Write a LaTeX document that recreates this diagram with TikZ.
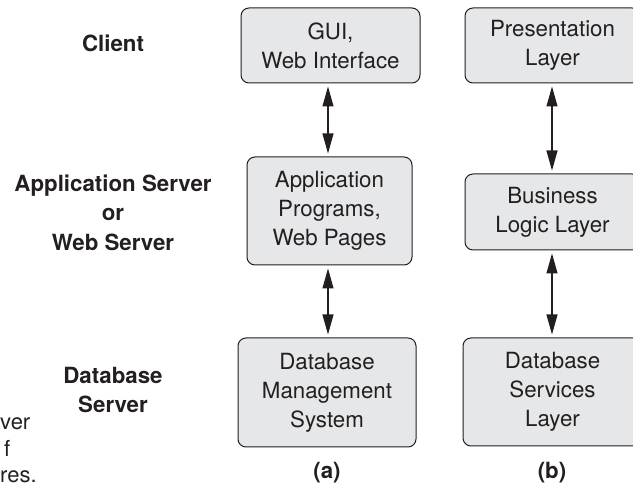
\documentclass[tikz,border=0pt]{standalone}
\usepackage{fontspec}
\setmainfont{TeX Gyre Heros}
\usetikzlibrary{arrows.meta}
\definecolor{ink}{RGB}{35,31,32}
\definecolor{boxfill}{RGB}{230,231,232}
\begin{document}
\begin{tikzpicture}[x=1pt,y=-1pt,
  box/.style={draw=ink, fill=boxfill, line width=1pt, rounded corners=8pt,
    inner sep=0pt, align=center, text=ink,
    font=\fontsize{22.3}{29}\selectfont},
  lbl/.style={inner sep=0pt, align=center, text=ink,
    font=\fontsize{22.3}{29.5}\selectfont\bfseries},
  frag/.style={inner sep=0pt, text=ink, font=\fontsize{22}{27}\selectfont},
  arr/.style={draw=ink, line width=1.1pt, {Triangle[length=20pt,width=11pt]}-{Triangle[length=20pt,width=11pt]},
    shorten <=3pt, shorten >=3pt}]
\useasboundingbox (0,0) rectangle (633,494);
\clip (0,0) rectangle (633,494);
% column (a)
\node[box, minimum width=179pt, minimum height=75pt] (gui) at (330.5,45.5) {GUI,\\Web Interface};
\node[box, minimum width=165pt, minimum height=108pt] (app) at (329.5,211) {Application\\Programs,\\Web Pages};
\node[box, minimum width=178pt, minimum height=109pt] (dbms) at (327,392.5) {Database\\Management\\System};
% column (b), cut off by the right edge
\node[box, minimum width=175pt, minimum height=75pt] (pres) at (552.5,45.5) {Presentation\\Layer};
\node[box, minimum width=175pt, minimum height=76pt] (bus) at (552.5,212) {Business\\Logic Layer};
\node[box, minimum width=179pt, minimum height=108pt] (dbs) at (552.5,392) {Database\\Services\\Layer};
% arrows
\coordinate (ax) at (328,0);
\coordinate (bx) at (552,0);
\draw[arr] (gui.south -| ax) -- (app.north -| ax);
\draw[arr] (app.south -| ax) -- (dbms.north -| ax);
\draw[arr] (pres.south -| bx) -- (bus.north -| bx);
\draw[arr] (bus.south -| bx) -- (dbs.north -| bx);
% tier labels
\node[lbl] (client) at (113,43.5) {Client};
\node[lbl] (appsrv) at (113,212.5) {Application Server\\or\\Web Server};
\node[lbl] (dbsrv) at (113,390) {Database\\Server};
% captions
\node[lbl] (capa) at (327,473) {(a)};
\node[lbl] (capb) at (552,473) {(b)};
% clipped caption fragments
\node[frag, anchor=base west] (f1) at (0,430) {ver};
\node[frag, anchor=base west] (f2) at (4,457) {f};
\node[frag, anchor=base west] (f3) at (0,483) {res.};
\end{tikzpicture}
\end{document}
